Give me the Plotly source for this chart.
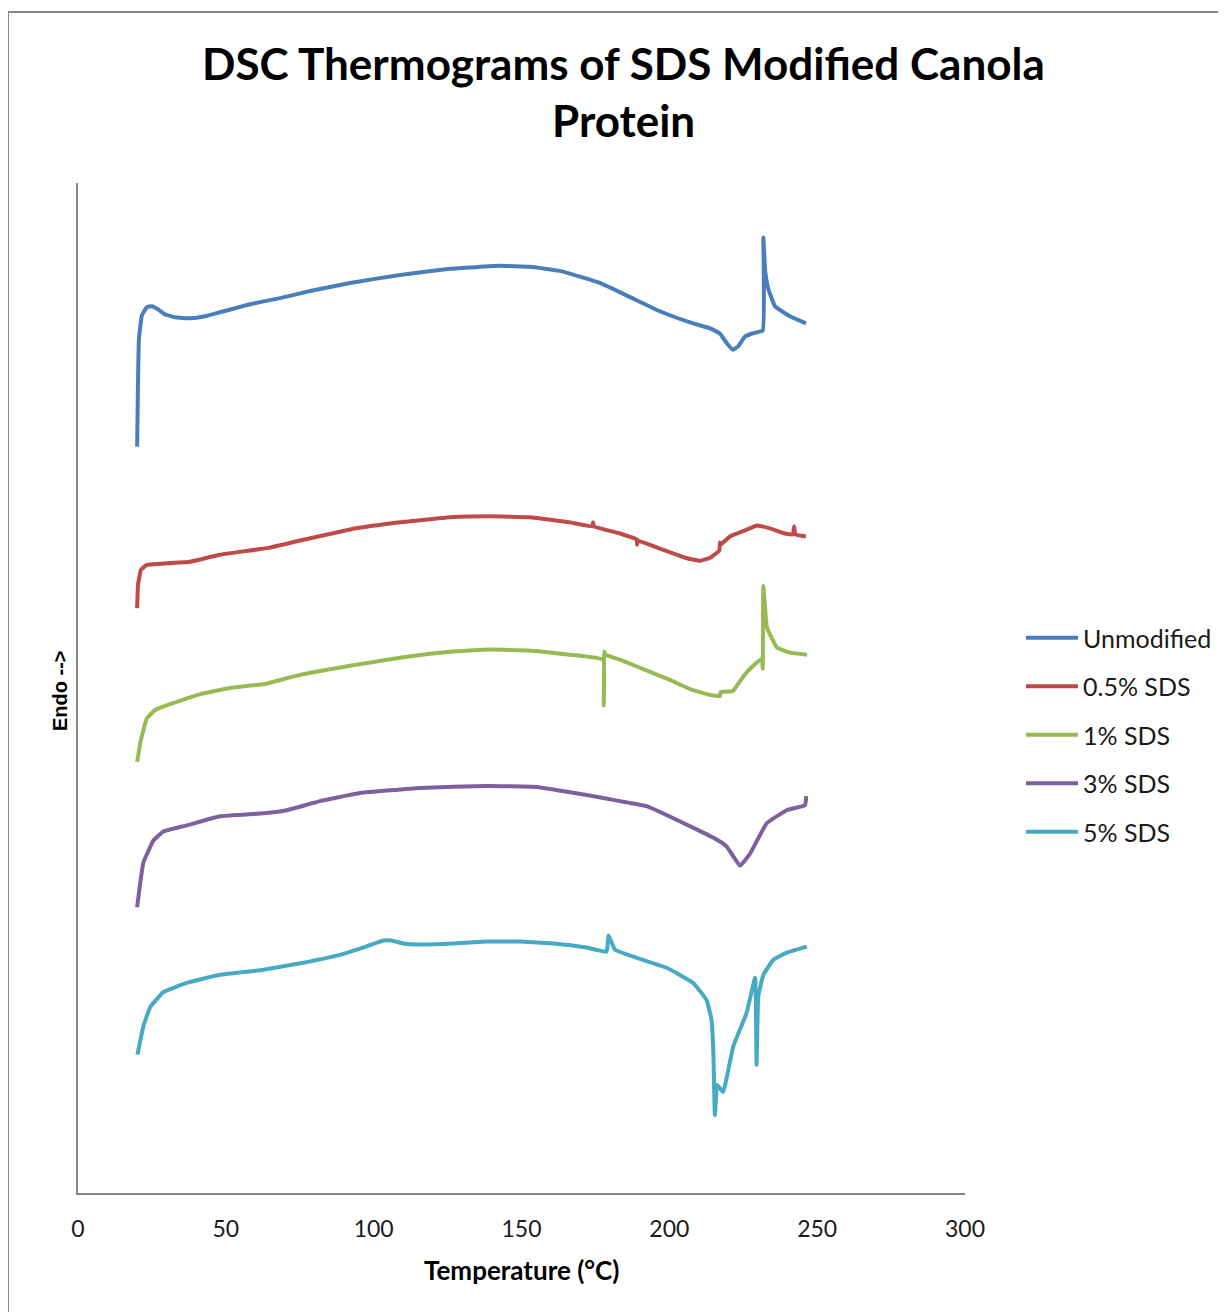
import plotly.graph_objects as go

# ---- Data (temperature in °C, heat flow in arbitrary offset units) ----
unmod_T = [20.0, 20.6, 21.6, 23.3, 25.0, 27.0, 29.4, 32.8, 37.9, 43.0, 48.0, 58.2, 68.3, 78.5, 92.0,
           108.9, 125.8, 142.7, 152.9, 163.0, 176.5, 186.7, 196.8, 207.0, 213.8, 217.1, 219.5, 221.5,
           223.2, 225.6, 228.0, 231.6, 231.8, 232.4, 233.4, 235.7, 240.8, 246.2]
unmod_y = [73.9, 84.5, 86.9, 87.7, 87.8, 87.5, 87.0, 86.7, 86.6, 86.8, 87.2, 88.0, 88.6, 89.3, 90.1,
           90.9, 91.5, 91.8, 91.7, 91.3, 90.1, 88.7, 87.3, 86.2, 85.6, 85.1, 84.1, 83.5,
           83.8, 84.8, 85.1, 85.4, 94.6, 91.4, 89.6, 87.8, 86.8, 86.1]

sds05_T = [20.0, 20.3, 21.3, 23.3, 27.7, 37.9, 48.0, 64.9, 75.1, 92.0, 108.9, 125.8, 139.3, 152.9,
           166.4, 174.0, 174.2, 174.5, 183.3, 189.0, 189.1, 189.3, 196.8, 205.3, 210.4, 213.8, 216.9,
           217.1, 217.4, 220.5, 225.6, 229.6, 234.0, 239.1, 241.8, 242.2, 242.6, 246.2]
sds05_y = [57.9, 60.2, 61.7, 62.2, 62.3, 62.5, 63.2, 63.9, 64.6, 65.7, 66.4, 66.9, 67.0, 66.9,
           66.4, 66.0, 66.4, 66.0, 65.3, 64.7, 64.2, 64.6, 63.8, 62.9, 62.6, 62.9, 63.6,
           64.4, 64.2, 65.0, 65.6, 66.1, 65.8, 65.3, 65.2, 66.0, 65.2, 65.0]

sds1_T = [20.0, 21.3, 23.3, 26.0, 31.1, 41.3, 51.4, 63.2, 75.1, 92.0, 108.9, 125.8, 139.3, 152.9,
          166.4, 177.6, 177.8, 178.0, 178.3, 183.3, 193.5, 200.2, 207.0, 213.8, 217.1, 217.3, 221.5,
          224.9, 228.0, 231.3, 231.6, 231.8, 233.0, 236.4, 240.8, 246.6]
sds1_y = [42.7, 44.9, 47.0, 47.8, 48.4, 49.4, 50.0, 50.4, 51.3, 52.2, 53.0, 53.6, 53.8, 53.7,
          53.3, 52.8, 48.3, 53.6, 53.3, 52.8, 51.6, 50.8, 49.9, 49.3, 49.2, 49.6, 49.7,
          51.1, 52.1, 52.9, 51.9, 60.1, 56.0, 54.0, 53.5, 53.3]

sds3_T = [20.0, 22.1, 25.5, 28.9, 36.8, 48.0, 62.7, 70.6, 81.8, 95.4, 115.7, 138.2, 155.1, 172.0,
          183.3, 192.3, 209.2, 216.0, 219.4, 223.9, 227.3, 232.9, 239.7, 245.9, 246.3]
sds3_y = [28.3, 32.7, 34.9, 35.8, 36.4, 37.3, 37.6, 37.9, 38.8, 39.6, 40.1, 40.3, 40.2, 39.4,
          38.8, 38.3, 36.0, 35.0, 34.3, 32.4, 33.6, 36.6, 37.9, 38.4, 39.3]

sds5_T = [20.1, 22.1, 24.4, 28.9, 36.8, 48.0, 62.7, 76.2, 87.5, 95.4, 103.3, 106.1, 110.0, 115.7,
          126.9, 138.2, 149.5, 160.8, 172.0, 178.8, 179.4, 181.6, 187.8, 199.1, 208.1, 212.6, 214.3,
          214.9, 215.4, 216.2, 218.2, 221.6, 226.1, 229.0, 229.5, 230.1, 231.8, 235.2, 239.7, 246.5]
sds5_y = [13.7, 16.5, 18.4, 19.9, 20.8, 21.6, 22.1, 22.8, 23.5, 24.2, 25.0, 25.0, 24.7, 24.6,
          24.7, 24.9, 24.9, 24.7, 24.3, 23.9, 25.5, 24.1, 23.4, 22.3, 20.8, 19.1, 17.1,
          13.8, 7.7, 10.7, 10.0, 14.5, 17.8, 21.3, 12.7, 19.5, 21.6, 23.1, 23.8, 24.4]

series_names = ["Unmodified", "0.5% SDS", "1% SDS", "3% SDS", "5% SDS"]
series_colors = ["#4A7EBB", "#BE4B48", "#98B954", "#7D60A0", "#46AAC5"]
x_ticks = [0, 50, 100, 150, 200, 250, 300]

title_line1 = "DSC Thermograms of SDS Modified Canola"
title_line2 = "Protein"
x_title = "Temperature (°C)"
y_title = "Endo -->"

all_T = [unmod_T, sds05_T, sds1_T, sds3_T, sds5_T]
all_y = [unmod_y, sds05_y, sds1_y, sds3_y, sds5_y]

fig = go.Figure()
for i, (name, col, T, y) in enumerate(zip(series_names, series_colors, all_T, all_y)):
    fig.add_trace(go.Scatter(
        x=T, y=y, mode="lines", name=name,
        line=dict(color=col, width=4, shape="spline", smoothing=0.3),
        legendgroup=f"g{i}",
    ))

# page is offset by the default 8px body margin
OFF = 8
W, H = 1226, 1312 - OFF
# plot area in page pixels: x 78..965, y 183..1193
L = 78 - OFF
T_ = 183 - OFF
R = W - (965 - OFF)
B = H - (1193 - OFF)
pw = W - L - R
ph = H - T_ - B

def px_to_paper_x(px):
    return (px - OFF - L) / pw

def py_to_paper_y(py):
    return (H - B - (py - OFF)) / ph

FONT = "Lato"

fig.update_layout(
    width=W, height=H,
    margin=dict(l=L, r=R, t=T_, b=B),
    paper_bgcolor="white", plot_bgcolor="white",
    showlegend=True,
    legend=dict(
        x=px_to_paper_x(1021), y=py_to_paper_y(615), xanchor="left", yanchor="top",
        font=dict(family=FONT, size=25, color="#1a1a1a"),
        tracegroupgap=13, bgcolor="rgba(0,0,0,0)", itemwidth=52,
    ),
    xaxis=dict(
        range=[0, 300], tickvals=x_ticks, ticktext=[str(v) for v in x_ticks],
        showgrid=False, zeroline=False, showline=True, linecolor="#868686", linewidth=2,
        ticks="", tickfont=dict(family=FONT, size=23, color="#1a1a1a"),
        ticklabelstandoff=14,
    ),
    yaxis=dict(
        range=[0, 100], showticklabels=False, showgrid=False, zeroline=False,
        showline=True, linecolor="#868686", linewidth=2, ticks="",
    ),
    annotations=[
        dict(text=f"<b>{title_line1}</b>", x=px_to_paper_x(623), y=py_to_paper_y(63),
             xref="paper", yref="paper", showarrow=False, xanchor="center", yanchor="middle",
             font=dict(family=FONT, size=44, color="black")),
        dict(text=f"<b>{title_line2}</b>", x=px_to_paper_x(623), y=py_to_paper_y(120),
             xref="paper", yref="paper", showarrow=False, xanchor="center", yanchor="middle",
             font=dict(family=FONT, size=44, color="black")),
        dict(text=f"<b>{x_title}</b>", x=px_to_paper_x(521), y=py_to_paper_y(1270),
             xref="paper", yref="paper", showarrow=False, xanchor="center", yanchor="middle",
             font=dict(family=FONT, size=26, color="black")),
        dict(text=f"<b>{y_title}</b>", x=px_to_paper_x(60), y=py_to_paper_y(691),
             xref="paper", yref="paper", showarrow=False, xanchor="center", yanchor="middle",
             textangle=-90, font=dict(family="Liberation Sans", size=20, color="black")),
    ],
    shapes=[
        dict(type="rect", xref="paper", yref="paper",
             x0=px_to_paper_x(8), x1=px_to_paper_x(1300),
             y0=py_to_paper_y(1400), y1=py_to_paper_y(12),
             line=dict(color="#868686", width=2), fillcolor="rgba(0,0,0,0)", layer="below"),
    ],
)

fig.write_html("out.html")
